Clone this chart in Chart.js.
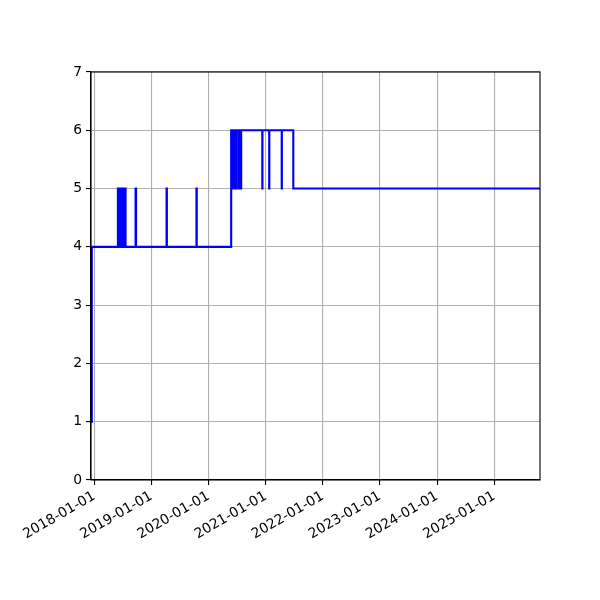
<!DOCTYPE html>
<html>
<head>
<meta charset="utf-8">
<script src="https://cdn.jsdelivr.net/npm/chart.js@4/dist/chart.umd.min.js"></script>
<style>
  html, body { margin: 0; padding: 0; background: #fff; }
  #wrap { width: 600px; height: 600px; }
</style>
</head>
<body>
<div id="wrap"><canvas id="c" width="600" height="600"></canvas></div>
<script>
// step series (steps-post): value holds until the next date
const dates = [
  "2017-12-11", "2017-12-16",
  "2018-06-01", "2018-06-05", "2018-06-09", "2018-06-12", "2018-06-15", "2018-06-20",
  "2018-06-23", "2018-06-28", "2018-07-01", "2018-07-06", "2018-07-09", "2018-07-13",
  "2018-07-16", "2018-07-20",
  "2018-09-22", "2018-09-25",
  "2019-04-08", "2019-04-10",
  "2019-10-16", "2019-10-18",
  "2020-05-25",
  "2020-06-07", "2020-06-08", "2020-06-18", "2020-06-19", "2020-06-29", "2020-06-30",
  "2020-07-14", "2020-07-15", "2020-07-27", "2020-07-28",
  "2020-12-10", "2020-12-11",
  "2021-01-23", "2021-01-24",
  "2021-04-13", "2021-04-14",
  "2021-06-26",
  "2025-10-20"
]
const values = [
  1, 4,
  5, 4, 5, 4, 5, 4,
  5, 4, 5, 4, 5, 4,
  5, 4,
  5, 4,
  5, 4,
  5, 4,
  6,
  5, 6, 5, 6, 5, 6,
  5, 6, 5, 6,
  5, 6,
  5, 6,
  5, 6,
  5,
  5
]
const tickYears = ["2018-01-01", "2019-01-01", "2020-01-01", "2021-01-01",
                   "2022-01-01", "2023-01-01", "2024-01-01", "2025-01-01"]
const yTicks = [0, 1, 2, 3, 4, 5, 6, 7]

const points = dates.map((d, i) => ({ x: Date.parse(d), y: values[i] }))
const xTickValues = tickYears.map(d => Date.parse(d))

function fmtDate(ms) {
  const d = new Date(ms)
  const mm = String(d.getUTCMonth() + 1).padStart(2, "0")
  const dd = String(d.getUTCDate()).padStart(2, "0")
  return d.getUTCFullYear() + "-" + mm + "-" + dd
}

// matplotlib-style box around the axes
const frame = {
  id: "frame",
  afterDatasetsDraw(chart) {
    const a = chart.chartArea
    const ctx = chart.ctx
    ctx.save()
    ctx.strokeStyle = "#000"
    ctx.lineWidth = 1.1
    ctx.strokeRect(a.left, a.top, a.right - a.left, a.bottom - a.top)
    ctx.restore()
  }
}

Chart.defaults.font.family = "'DejaVu Sans', sans-serif"
Chart.defaults.font.size = 13.9
Chart.defaults.color = "#000"

new Chart(document.getElementById("c"), {
  type: "line",
  data: {
    datasets: [{
      data: points,
      borderColor: "#0000ff",
      borderWidth: 2.1,
      stepped: "before",
      pointRadius: 0,
      fill: false
    }]
  },
  options: {
    responsive: false,
    animation: false,
    layout: { padding: { top: 72, right: 60, left: 0, bottom: 0 } },
    plugins: { legend: { display: false }, tooltip: { enabled: false } },
    scales: {
      x: {
        type: "linear",
        min: Date.parse("2017-12-11"),
        max: Date.parse("2025-10-20"),
        afterBuildTicks: axis => { axis.ticks = xTickValues.map(v => ({ value: v })) },
        afterFit: scale => { scale.height = 120 },
        ticks: {
          autoSkip: false,
          minRotation: 30,
          maxRotation: 30,
          padding: 3,
          callback: v => fmtDate(v)
        },
        grid: { color: "#b0b0b0", lineWidth: 1.1, tickColor: "#000", tickLength: 5 },
        border: { color: "#000", width: 1.1 }
      },
      y: {
        min: 0,
        max: 7,
        afterBuildTicks: axis => { axis.ticks = yTicks.map(v => ({ value: v })) },
        afterFit: scale => { scale.width = 91 },
        ticks: { padding: 4 },
        grid: { color: "#b0b0b0", lineWidth: 1.1, tickColor: "#000", tickLength: 5 },
        border: { color: "#000", width: 1.1 }
      }
    }
  },
  plugins: [frame]
})
</script>
</body>
</html>
